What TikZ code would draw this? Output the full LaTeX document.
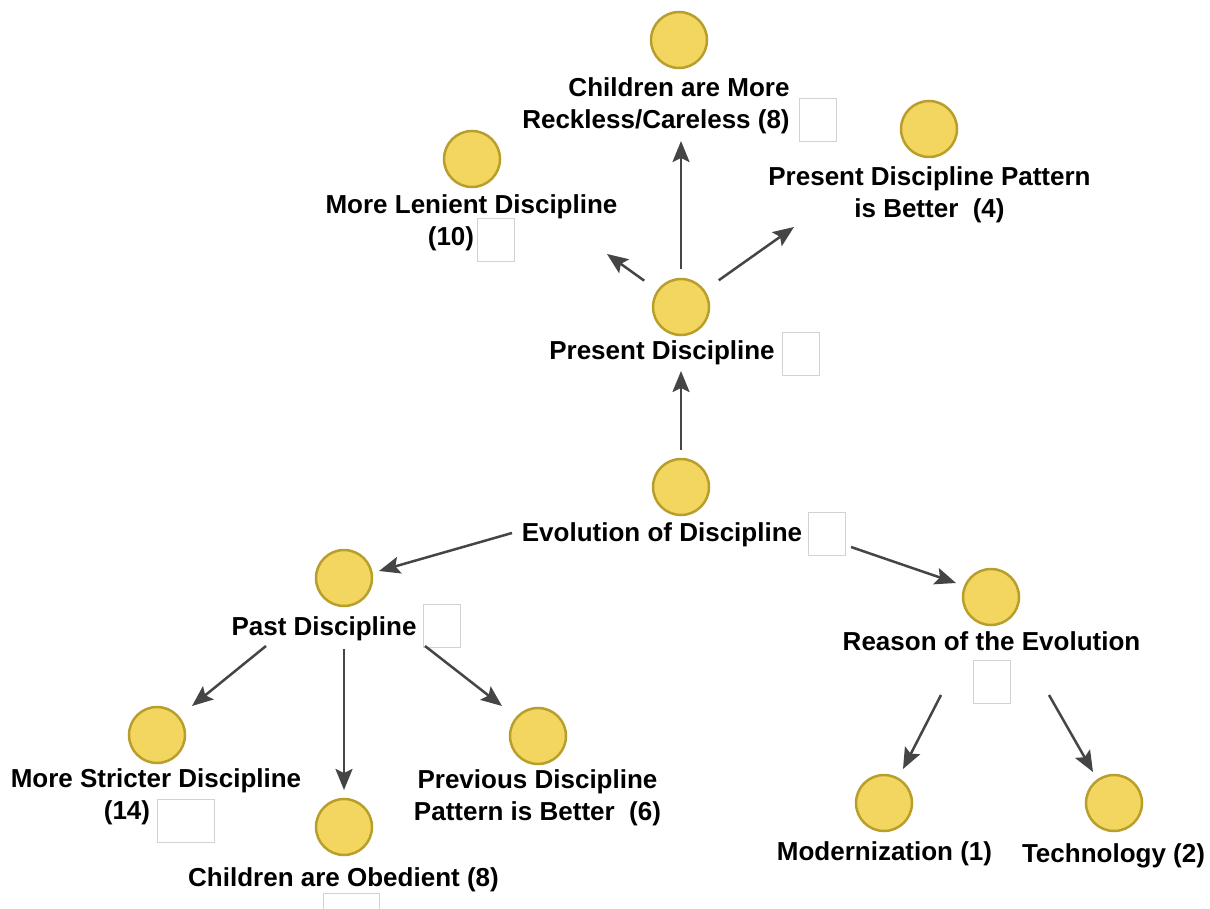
\documentclass[tikz,border=0pt]{standalone}
\usepackage{fontspec}
\setmainfont{Liberation Sans}
\usetikzlibrary{arrows.meta}
\definecolor{circfill}{HTML}{F2D660}
\definecolor{circline}{HTML}{B89F2C}
\definecolor{arrgray}{HTML}{454545}
\definecolor{boxline}{HTML}{D2D2D2}
\newcommand\padright[1]{\hbox to #1{\hfil}}
\tikzset{
  dot/.style={circle, fill=circfill, draw=circline, line width=2.5pt, minimum size=56pt, inner sep=0pt},
  lbl/.style={align=center, inner sep=0pt, font=\bfseries\fontsize{26}{32}\selectfont},
  ebox/.style={draw=boxline, line width=1pt, fill=white, minimum width=37pt, minimum height=43pt, inner sep=0pt},
  arr/.style={draw=arrgray, line width=2.5pt, -{Stealth[length=21pt,width=17pt,inset=4pt]}}
}
\begin{document}
\begin{tikzpicture}[x=1pt,y=-1pt]
\useasboundingbox (0,0) rectangle (1210,909);
% circles
\node[dot] (creck) at (679,40) {};
\node[dot] (clen) at (472,159) {};
\node[dot] (cpat) at (929,129) {};
\node[dot] (cpres) at (681,307) {};
\node[dot] (cevo) at (681,487) {};
\node[dot] (cpast) at (344,578) {};
\node[dot] (creas) at (991,597) {};
\node[dot] (cstr) at (157,735) {};
\node[dot] (cobe) at (344,827) {};
\node[dot] (cprev) at (538,736) {};
\node[dot] (cmod) at (884,803) {};
\node[dot] (ctech) at (1114,803) {};
% labels
\node[lbl] (lreck) at (679,105.5) {Children are More\\Reckless/Careless (8)\padright{46pt}};
\node[lbl] (llen) at (471.5,223) {More Lenient Discipline\\(10)\padright{41pt}};
\node[lbl] (lpat) at (929.5,195) {Present Discipline Pattern\\is Better~ (4)};
\node[lbl] (lpres) at (662,352.5) {Present Discipline};
\node[lbl] (levo) at (662,534.5) {Evolution of Discipline};
\node[lbl] (lpast) at (324,628.5) {Past Discipline};
\node[lbl] (lreas) at (991.5,641) {Reason of the Evolution};
\node[lbl] (lstr) at (156,797) {More Stricter Discipline\\(14)\padright{58pt}};
\node[lbl] (lobe) at (343.5,879.5) {Children are Obedient (8)};
\node[lbl] (lprev) at (537.5,798) {Previous Discipline\\Pattern is Better~ (6)};
\node[lbl] (lmod) at (884.5,853.5) {Modernization (1)};
\node[lbl] (ltech) at (1113.5,855.5) {Technology (2)};
% empty boxes
\node[ebox] (breck) at (817.5,120) {};
\node[ebox] (blen) at (496,240.5) {};
\node[ebox] (bpres) at (800.5,354) {};
\node[ebox] (bevo) at (826.5,533.5) {};
\node[ebox] (bpast) at (442,626) {};
\node[ebox] (breas) at (991.5,682) {};
\node[ebox, minimum width=57pt] (bstr) at (185.5,821) {};
\node[ebox, minimum width=56pt] (bobe) at (351,915) {};
% arrow ends
\coordinate (tlen) at (607,254);
\coordinate (treck) at (681,141);
\coordinate (tpat) at (794,227);
\coordinate (tpres) at (681,371);
\coordinate (sevol) at (512,533);
\coordinate (tpast) at (379,571);
\coordinate (sevor) at (851,547);
\coordinate (treas) at (956,583);
\coordinate (sstr) at (266,646);
\coordinate (tstr) at (192,706);
\coordinate (tobe) at (344,790);
\coordinate (sprev) at (425,646);
\coordinate (tprev) at (502,706);
\coordinate (smod) at (941,695);
\coordinate (tmod) at (903,769);
\coordinate (stech) at (1049,695);
\coordinate (ttech) at (1093,772);
% connectors
\draw[arr, shorten <=16pt] (cpres) -- (tlen);
\draw[arr, shorten <=9pt] (cpres) -- (treck);
\draw[arr, shorten <=17pt] (cpres) -- (tpat);
\draw[arr, shorten <=8pt] (cevo) -- (tpres);
\draw[arr] (sevol) -- (tpast);
\draw[arr] (sevor) -- (treas);
\draw[arr] (sstr) -- (tstr);
\draw[arr, shorten <=42pt] (cpast) -- (tobe);
\draw[arr] (sprev) -- (tprev);
\draw[arr] (smod) -- (tmod);
\draw[arr] (stech) -- (ttech);
\end{tikzpicture}
\end{document}
